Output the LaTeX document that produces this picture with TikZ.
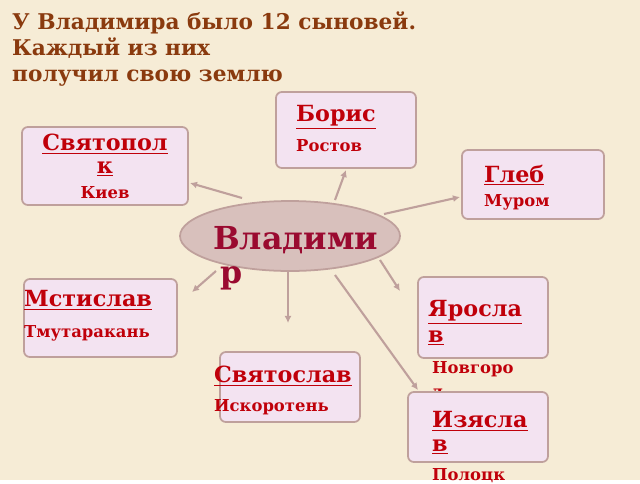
\documentclass[tikz,border=0pt]{standalone}
\usepackage{fontspec}
\setmainfont{DejaVu Serif}
\usetikzlibrary{shapes.geometric,arrows.meta}
\definecolor{paper}{HTML}{F6ECD6}
\definecolor{boxfill}{HTML}{F3E3F1}
\definecolor{boxline}{HTML}{BFA09C}
\definecolor{namered}{HTML}{C0000A}
\definecolor{titlebrown}{HTML}{8A3A0E}
\definecolor{ellfill}{HTML}{D8C0BC}
\definecolor{vladred}{HTML}{9A0A30}

\begin{document}
\begin{tikzpicture}[x=0.03cm,y=-0.03cm,
                son/.style = {draw=boxline, line width=1.5pt, fill=boxfill, rounded corners=5pt},
                nm/.style = {anchor=west, inner sep=0, font=\bfseries\fontsize{19}{19}\selectfont, text=namered},
                city/.style = {anchor=west, inner sep=0, font=\bfseries\fontsize{14}{14}\selectfont, text=namered},
                arr/.style = {draw=boxline, line width=1.8pt, -{Latex[length=6pt,width=6pt]}}]
                \fill[paper] (0,0) rectangle (640,480);
                \node[anchor=north west, align=left, inner sep=0, text=titlebrown,
                      font=\bfseries\fontsize{18.5}{22}\selectfont] (title) at (12,12)
                    {У Владимира было 12 сыновей.\\Каждый из них\\получил свою землю};
                % boxes
                \draw[son] (276,92) rectangle (416,168);
                \draw[son] (22,127) rectangle (188,205);
                \draw[son] (462,150) rectangle (604,219);
                \draw[son] (24,279) rectangle (177,357);
                \draw[son] (418,277) rectangle (548,358);
                \node[ellipse, draw=boxline, line width=1.5pt, fill=ellfill, inner sep=0,
                      minimum width=6.6cm, minimum height=2.1cm] (vlad) at (290,236) {};
                % names
                \node[nm] (bor) at (296,117) {\underline{Борис}};
                \node[city] (ros) at (296,146) {Ростов};
                \node[nm, anchor=center] (svp) at (105,144) {\underline{Святопол}};
                \node[nm, anchor=center] (svk) at (105,169) {\underline{к}};
                \node[city, anchor=center] (kie) at (105,193) {Киев};
                \node[nm] (gle) at (484,175) {\underline{Глеб}};
                \node[city] (mur) at (484,202) {Муром};
                \node[nm] (mst) at (24,300) {\underline{Мстислав}};
                \node[city] (tmu) at (24,333) {Тмутаракань};
                \node[nm] (yar) at (428,312) {\underline{Яросла}};
                \node[nm] (yarv) at (428,338) {\underline{в}};
                \node[city] (nov) at (432,369) {Новгоро};
                \node[city] (novd) at (432,394) {д};
                \node[anchor=west, inner sep=0, text=vladred, font=\bfseries\fontsize{27}{27}\selectfont] (vl1) at (213,240) {Владими};
                \node[anchor=west, inner sep=0, text=vladred, font=\bfseries\fontsize{27}{27}\selectfont] (vl2) at (220,278) {р};
                \draw[son] (220,352) rectangle (360,422);
                \node[nm] (svs) at (214,376) {\underline{Святослав}};
                \node[city] (isk) at (214,407) {Искоротень};
                \draw[son] (408,392) rectangle (548,462);
                \node[nm] (izy) at (432,421) {\underline{Изясла}};
                \node[nm] (izyv) at (432,447) {\underline{в}};
                \node[city] (pol) at (432,476) {Полоцк};
                % arrows
                \coordinate (a1) at (242,198); \coordinate (b1) at (190,183);
                \coordinate (a2) at (335,200); \coordinate (b2) at (346,170);
                \coordinate (a3) at (384,214); \coordinate (b3) at (460,197);
                \coordinate (a4) at (216,271); \coordinate (b4) at (192,292);
                \coordinate (a5) at (288,272); \coordinate (b5) at (288,323);
                \coordinate (a6) at (380,260); \coordinate (b6) at (400,291);
                \coordinate (a7) at (335,275); \coordinate (b7) at (418,390);
                \foreach \i in {1,...,7}
                    \draw[arr] (a\i) -- (b\i);
            \end{tikzpicture}
\end{document}
